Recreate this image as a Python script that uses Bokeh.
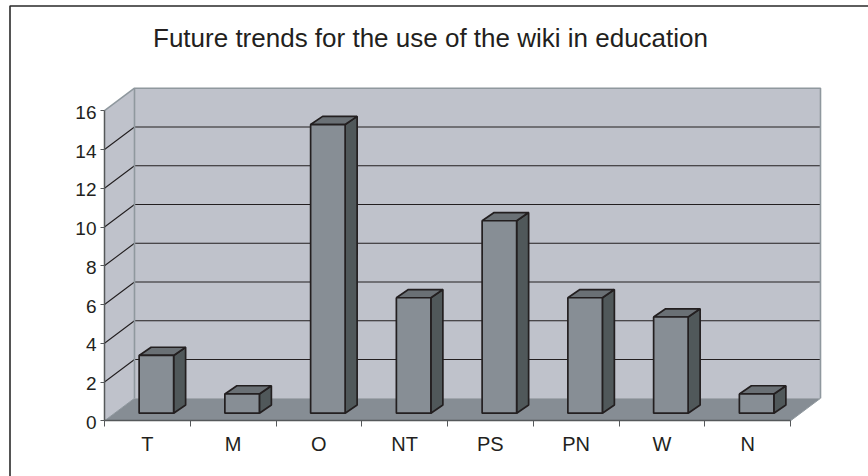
from bokeh.embed import file_html
from bokeh.models import FixedTicker, LinearAxis, Range1d
from bokeh.plotting import figure
from bokeh.resources import INLINE
from bokeh.core.properties import value

# Responses per category
categories = ["T", "M", "O", "NT", "PS", "PN", "W", "N"]
counts = [3, 1, 15, 6, 10, 6, 5, 1]
value_ticks = [0, 2, 4, 6, 8, 10, 12, 14, 16]
title_text = "Future trends for the use of the wiki in education"

WIDTH, HEIGHT = 868, 476
# Where the data origin sits on the page, and the size of one unit
ORIGIN_X, ORIGIN_Y = 104.0, 420.3
CAT_PX = 85.75
VAL_PX = 19.38

# Oblique projection of the chart box, in data units
WALL_DX = 30 / CAT_PX
WALL_DY = 22.5 / VAL_PX
BAR_SHIFT_X = 9.0 / CAT_PX
BAR_SHIFT_Y = 7.6 / VAL_PX
BAR_W = 34.5 / CAT_PX
BAR_DX = 12.0 / CAT_PX
BAR_DY = 8.2 / VAL_PX
BAR_SCALE = 0.993

WALL = "#bfc2cb"
WALL_EDGE = "#8f989e"
FLOOR = "#868d94"
BAR_FRONT = "#878e95"
BAR_SIDE = "#50585a"
BAR_TOP = "#6a7075"
INK = "#231f20"
AXIS = "#55585a"

n = len(categories)
vmax = value_ticks[-1]


def page_x(px):
    return (px - ORIGIN_X) / CAT_PX


def page_y(py):
    return (ORIGIN_Y - py) / VAL_PX


# The frame fills the page, so the axes are pinned inside it at the origin
p = figure(
    width=WIDTH, height=HEIGHT, output_backend="svg", toolbar_location=None,
    x_range=Range1d(page_x(0), page_x(WIDTH)), y_range=Range1d(page_y(HEIGHT), page_y(0)),
    min_border=0, x_axis_type=None, y_axis_type=None,
)
p.grid.visible = False
p.outline_line_color = None
p.background_fill_color = "white"

# Page rule along the top and left
p.line([page_x(9.5), page_x(9.5), page_x(WIDTH)], [page_y(HEIGHT), page_y(5.5), page_y(5.5)],
       line_color="#2a2a2a", line_width=1.6)

# Side wall, back wall and floor
p.patch([0, WALL_DX, WALL_DX, 0], [0, WALL_DY, vmax + WALL_DY, vmax],
        fill_color=WALL, line_color=None)
p.patch([WALL_DX, n + WALL_DX, n + WALL_DX, WALL_DX],
        [WALL_DY, WALL_DY, vmax + WALL_DY, vmax + WALL_DY],
        fill_color=WALL, line_color=None)
p.patch([0, n, n + WALL_DX, WALL_DX], [0, 0, WALL_DY, WALL_DY],
        fill_color=FLOOR, line_color=None)

# Gridlines run along the side wall, then across the back wall
for t in value_ticks[1:-1]:
    p.line([0, WALL_DX, n + WALL_DX], [t, t + WALL_DY, t + WALL_DY],
           line_color=INK, line_width=1.1)

# Wall edges
p.line([0, WALL_DX, n + WALL_DX, n + WALL_DX],
       [vmax, vmax + WALL_DY, vmax + WALL_DY, WALL_DY],
       line_color=WALL_EDGE, line_width=1.6)
p.line([WALL_DX, WALL_DX], [WALL_DY, vmax + WALL_DY], line_color=WALL_EDGE, line_width=1.6)
p.line([n, n + WALL_DX], [0, WALL_DY], line_color=WALL_EDGE, line_width=1)
p.line([0, WALL_DX], [0, WALL_DY], line_color=WALL_EDGE, line_width=1)

# Bars: front, side and top faces
for i, v in enumerate(counts):
    x0 = i + 0.5 + BAR_SHIFT_X - BAR_W / 2
    x1 = x0 + BAR_W
    y0 = BAR_SHIFT_Y
    y1 = y0 + v * BAR_SCALE
    p.patch([x1, x1 + BAR_DX, x1 + BAR_DX, x1],
            [y0, y0 + BAR_DY, y1 + BAR_DY, y1],
            fill_color=BAR_SIDE, line_color=INK, line_width=1.7)
    p.patch([x0, x1, x1 + BAR_DX, x0 + BAR_DX],
            [y1, y1, y1 + BAR_DY, y1 + BAR_DY],
            fill_color=BAR_TOP, line_color=INK, line_width=1.7)
    p.patch([x0, x1, x1, x0], [y0, y0, y1, y1],
            fill_color=BAR_FRONT, line_color=INK, line_width=1.7)

# Axes
y_axis = LinearAxis(
    fixed_location=0, ticker=FixedTicker(ticks=value_ticks), bounds=(0, vmax),
    axis_line_color=AXIS, axis_line_width=1.5,
    major_tick_line_color=AXIS, major_tick_in=0, major_tick_out=4,
    minor_tick_line_color=None,
    major_label_text_color=None, major_label_text_font_size="1px",
)
p.add_layout(y_axis, "left")

# Value labels sit a little below the axis' own centring
p.text(x=[0] * len(value_ticks), y=value_ticks, text=[str(t) for t in value_ticks],
       x_offset=-8, y_offset=1.7,
       text_font=value("Liberation Sans"), text_font_size="19px", text_color=INK,
       text_align="right", text_baseline="alphabetic")

centers = [i + 0.5 for i in range(n)]
x_axis = LinearAxis(
    fixed_location=0, ticker=FixedTicker(ticks=centers, minor_ticks=list(range(n + 1))),
    bounds=(0, n),
    axis_line_color=AXIS, axis_line_width=1.5,
    major_tick_line_color=None, major_tick_in=0, major_tick_out=0,
    minor_tick_line_color=AXIS, minor_tick_in=0, minor_tick_out=6,
    major_label_overrides=dict(zip(centers, categories)),
    major_label_text_font="Liberation Sans", major_label_text_font_size="20px",
    major_label_text_color=INK, major_label_standoff=6,
)
p.add_layout(x_axis, "below")

# Chart title
p.text(x=[page_x(430)], y=[page_y(37)], text=[title_text],
       text_font=value("Liberation Sans"), text_font_size="26px", text_color=INK,
       text_align="center", text_baseline="alphabetic")

open("out.html", "w").write(file_html(p, INLINE))
